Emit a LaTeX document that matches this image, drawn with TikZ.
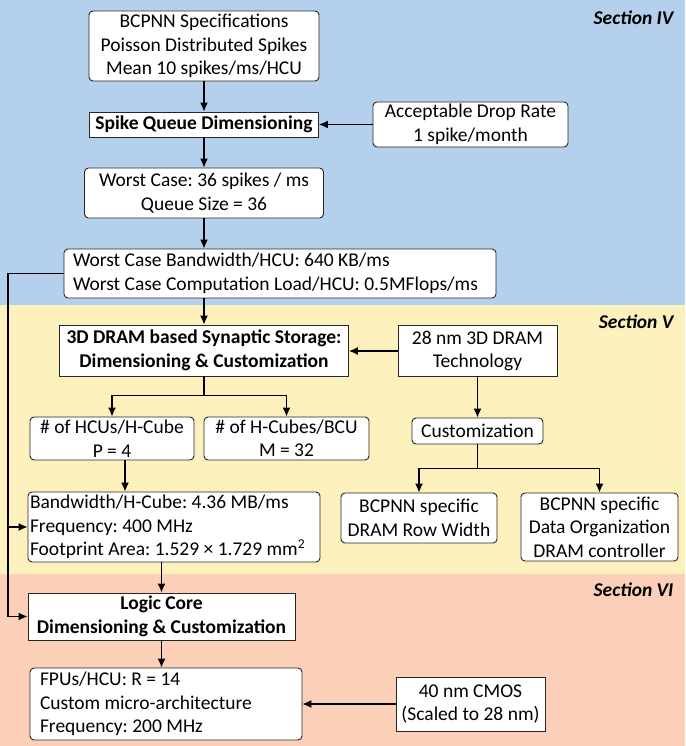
\documentclass[tikz,border=0pt]{standalone}
\usepackage{fontspec}
\setmainfont{Carlito}
\usetikzlibrary{positioning}
\usetikzlibrary{calc}
\usetikzlibrary{arrows.meta}
\definecolor{secblue}{RGB}{181,208,237}
\definecolor{secyellow}{RGB}{252,240,189}
\definecolor{secsalmon}{RGB}{251,207,184}
\newcommand{\diagfont}{\fontsize{19.5}{23.5}\selectfont\frenchspacing}
\tikzset{rbox/.style={draw=black!85,fill=white,rounded corners=4pt,align=center,inner sep=2pt,line width=0.9pt,font=\diagfont}}
\tikzset{sbox/.style={draw=black!85,fill=white,align=center,inner sep=2pt,line width=0.9pt,font=\diagfont}}
\tikzset{bbox/.style={sbox,font=\diagfont\bfseries}}
\tikzset{sec/.style={anchor=east,font=\diagfont\bfseries\itshape}}
\tikzset{conn/.style={line width=1.3pt}}
\tikzset{>={Latex[length=9pt,width=8pt]}}

\begin{document}
\begin{tikzpicture}[x=1pt,y=-1pt]
\useasboundingbox (0,0) rectangle (685,746);

\fill[secblue] (0,0) rectangle (685,305);
\fill[secyellow] (0,305) rectangle (685,574);
\fill[secsalmon] (0,574) rectangle (685,746);

\node[sec] (secIV) at (677,18) {Section IV};
\node[sec] (secV) at (677,322) {Section V};
\node[sec] (secVI) at (677,590) {Section VI};

\node[rbox,minimum width=230pt,minimum height=70pt] (spec) at (204,46) {BCPNN Specifications\\Poisson Distributed Spikes\\Mean 10 spikes/ms/HCU};
\node[bbox,minimum width=229pt,minimum height=25pt] (queue) at (204,124.5) {Spike Queue Dimensioning};
\node[rbox,minimum width=195pt,minimum height=45pt] (drop) at (470.5,124.5) {Acceptable Drop Rate\\1 spike/month};
\node[rbox,minimum width=239pt,minimum height=50pt] (worst) at (204,193) {Worst Case: 36 spikes / ms\\Queue Size = 36};
\node[rbox,align=flush left,inner xsep=9pt,text width=414pt,minimum height=49pt] (bw) at (280,273.5) {Worst Case Bandwidth/HCU: 640 KB/ms\\Worst Case Computation Load/HCU: 0.5MFlops/ms};

\node[bbox,minimum width=289pt,minimum height=51pt] (dram) at (204,350.5) {3D DRAM based Synaptic Storage:\\Dimensioning \& Customization};
\node[sbox,minimum width=159pt,minimum height=51pt] (tech) at (477.5,351) {28 nm 3D DRAM\\Technology};
\node[rbox,minimum width=164pt,minimum height=43pt] (hcus) at (112,438.5) {\# of HCUs/H-Cube\\P = 4};
\node[rbox,minimum width=165pt,minimum height=43pt] (hcubes) at (286.5,438.5) {\# of H-Cubes/BCU\\M = 32};
\node[rbox,minimum width=131pt,minimum height=26pt] (cust) at (477.5,431) {Customization};
\node[rbox,align=flush left,inner xsep=2pt,text width=288pt,minimum height=70pt] (bwcube) at (174,527) {Bandwidth/H-Cube: 4.36 MB/ms\\Frequency: 400 MHz\\Footprint Area: 1.529 × 1.729 mm\textsuperscript{2}};
\node[rbox,minimum width=156pt,minimum height=50pt] (rowwidth) at (419,518) {BCPNN specific\\DRAM Row Width};
\node[rbox,minimum width=157pt,minimum height=68pt] (dataorg) at (599.5,527) {BCPNN specific\\Data Organization\\DRAM controller};

\node[bbox,minimum width=267pt,minimum height=47pt] (logic) at (161.5,616.5) {Logic Core\\Dimensioning \& Customization};
\node[rbox,align=flush left,inner xsep=10pt,text width=252pt,minimum height=72pt] (fpu) at (166,704) {FPUs/HCU: R = 14\\Custom micro-architecture\\Frequency: 200 MHz};
\node[sbox,minimum width=149pt,minimum height=54pt] (cmos) at (470.5,704) {40 nm CMOS\\(Scaled to 28 nm)};

\coordinate (rail) at (8,0);
\coordinate (dsplit) at ($(dram.south)+(0,19)$);
\coordinate (csplit) at ($(cust.south)+(0,24)$);

\draw[conn,->] (spec.south) -- (queue.north);
\draw[conn,->] (drop.west) -- (queue.east);
\draw[conn,->] (queue.south) -- (worst.north);
\draw[conn,->] (worst.south) -- (worst.south |- bw.north);
\draw[conn,->] (dram.north |- bw.south) -- (dram.north);
\draw[conn,->] (tech.west) -- (tech.west -| dram.east);

\draw[conn] (dram.south) -- (dsplit);
\draw[conn,->] (dsplit) -| (hcus.north);
\draw[conn,->] (dsplit) -| (hcubes.north);
\draw[conn,->] ([xshift=13pt]hcus.south) -- ([xshift=13pt]hcus.south |- bwcube.north);

\draw[conn,->] (tech.south) -- (cust.north);
\draw[conn] (cust.south) -- (csplit);
\draw[conn,->] (csplit) -| (rowwidth.north);
\draw[conn,->] (csplit) -| (dataorg.north);

\draw[conn,->] (bw.west) -- (bw.west -| rail) |- (logic.west);
\draw[conn,->] (bwcube.west -| rail) -- (bwcube.west);
\draw[conn,->] (logic.north |- bwcube.south) -- (logic.north);
\draw[conn,->] (logic.south) -- (logic.south |- fpu.north);
\draw[conn,->] (cmos.west) -- (cmos.west -| fpu.east);

\end{tikzpicture}
\end{document}
